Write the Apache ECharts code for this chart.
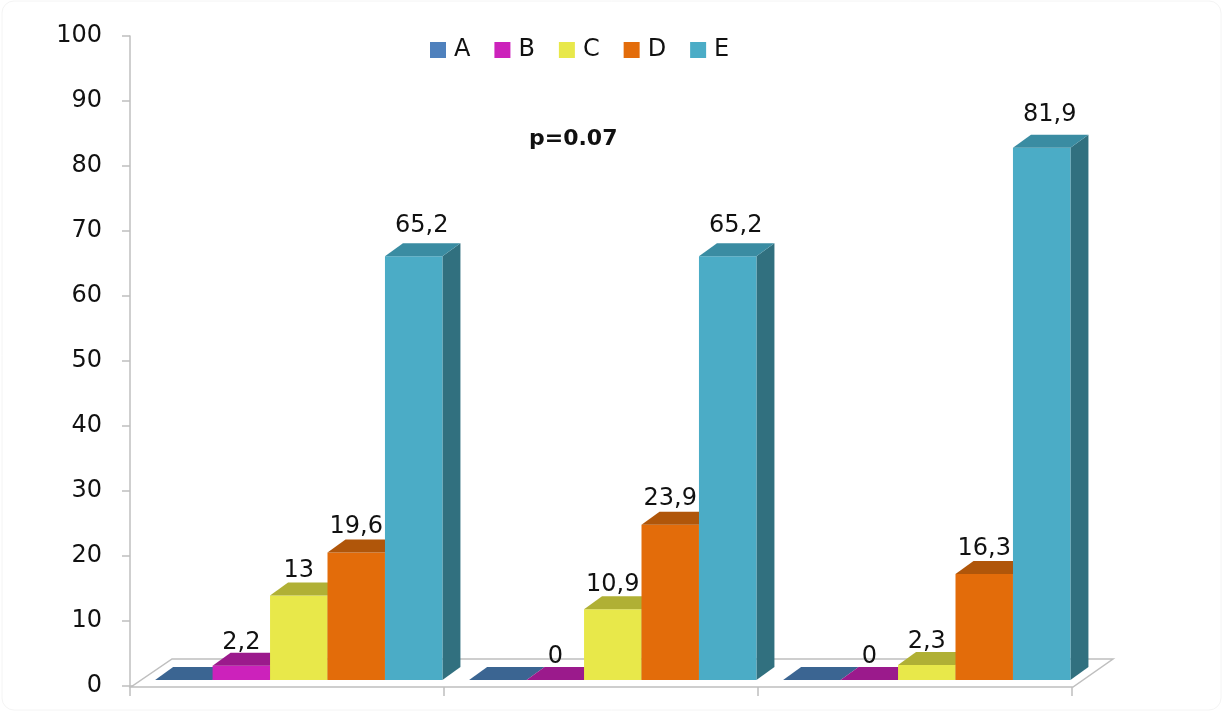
<!DOCTYPE html>
<html>
<head>
<meta charset="utf-8">
<script src="https://cdn.jsdelivr.net/npm/echarts@6/dist/echarts.min.js"></script>
<style>
  html, body { margin: 0; padding: 0; background: #fff; }
  #main { width: 1223px; height: 712px; }
</style>
</head>
<body>
<div id="main"></div>
<script>
var categories = ['1', '2', '3'];
var seriesNames = ['A', 'B', 'C', 'D', 'E'];
var valuesA = [0, 0, 0];
var valuesB = [2.2, 0, 0];
var valuesC = [13, 10.9, 2.3];
var valuesD = [19.6, 23.9, 16.3];
var valuesE = [65.2, 65.2, 81.9];
var yTicks = { min: 0, max: 100, interval: 10 };

// front / top / side colours per series
var frontColors = ['#4F81BD', '#CC22BB', '#E8E84A', '#E36C0A', '#4BACC6'];
var topColors   = ['#3B6592', '#9B1A8C', '#B0B035', '#B0560A', '#3A8CA2'];
var sideColors  = ['#2F5078', '#7E1572', '#8F8F2A', '#8F4608', '#31707F'];
var showLabel   = [false, true, true, true, true];

var DX = 18, DY = -13;   // bar depth
var LIFT = 6;            // front face sits above the axis zero
var FONT = 'DejaVu Sans';

function fmt(v) {
    return String(v).replace('.', ',');
}

function makeBarRender(idx) {
    return function (params, api) {
        var cat = api.value(0), v = api.value(1);
        var band = api.size([1, 0])[0];
        var base = api.coord([cat, 0]);
        var top = api.coord([cat, v]);
        var w = band * 0.183;
        var x0 = base[0] - band * 0.42 + idx * w;
        var x1 = x0 + w;
        var yT = top[1] - LIFT;
        var yB = base[1] - LIFT;
        var children = [
            {
                type: 'polygon',
                shape: { points: [[x1, yT], [x1 + DX, yT + DY], [x1 + DX, yB + DY], [x1, yB]] },
                style: { fill: sideColors[idx] }
            },
            {
                type: 'rect',
                shape: { x: x0, y: yT, width: w, height: yB - yT },
                style: { fill: frontColors[idx] }
            },
            {
                type: 'polygon',
                shape: { points: [[x0, yT], [x1, yT], [x1 + DX, yT + DY], [x0 + DX, yT + DY]] },
                style: { fill: topColors[idx] }
            }
        ];
        if (showLabel[idx]) {
            children.push({
                type: 'text',
                x: (x0 + x1) / 2 + (v > 50 ? 8 : 0),
                y: yT - 23 - v * 0.12,
                style: {
                    text: fmt(v),
                    fill: '#111',
                    fontSize: 24,
                    fontFamily: FONT,
                    align: 'center',
                    verticalAlign: 'middle'
                }
            });
        }
        return { type: 'group', children: children };
    };
}

function renderFloor(params, api) {
    var cs = params.coordSys;
    var yb = cs.y + cs.height + 1;
    var xl = cs.x + 1, xr = cs.x + cs.width + 1;
    return {
        type: 'polygon',
        shape: { points: [[xl, yb], [xr, yb], [xr + 40, yb - 28], [xl + 41, yb - 28]] },
        style: { fill: '#fff', stroke: '#BFBFBF', lineWidth: 1.5 }
    };
}

var allValues = [valuesA, valuesB, valuesC, valuesD, valuesE];

var series = [{
    name: 'floor',
    type: 'custom',
    renderItem: renderFloor,
    data: [[0, 0]],
    silent: true,
    z: 1
}];
for (var i = 0; i < seriesNames.length; i++) {
    var data = [];
    for (var j = 0; j < categories.length; j++) {
        data.push([j, allValues[i][j]]);
    }
    series.push({
        name: seriesNames[i],
        type: 'custom',
        renderItem: makeBarRender(i),
        itemStyle: { color: frontColors[i] },
        encode: { x: 0, y: 1 },
        data: data,
        z: 2 + i
    });
}

var myChart = echarts.init(document.getElementById('main'));
var option = {
    backgroundColor: '#fff',
    animation: false,
    title: {
        text: 'p=0.07',
        left: 524,
        top: 123,
        textStyle: { fontSize: 22, fontWeight: 'bold', fontFamily: FONT, color: '#111' }
    },
    legend: {
        data: seriesNames,
        left: 425,
        top: 33,
        icon: 'rect',
        itemWidth: 16,
        itemHeight: 16,
        itemGap: 24,
        textStyle: { fontSize: 24, fontFamily: FONT, color: '#111', padding: [0, 0, 0, 3] },
    },
    grid: { left: 130, right: 151, top: 36, bottom: 26, containLabel: false },
    xAxis: {
        type: 'category',
        data: categories,
        axisLine: { lineStyle: { color: '#BFBFBF', width: 1.5 } },
        axisTick: { show: true, length: 10, lineStyle: { color: '#BFBFBF', width: 1.5 } },
        axisLabel: { show: false },
        splitLine: { show: false }
    },
    yAxis: {
        type: 'value',
        min: yTicks.min,
        max: yTicks.max,
        interval: yTicks.interval,
        axisLine: { show: true, lineStyle: { color: '#BFBFBF', width: 1.5 } },
        axisTick: { show: true, length: 8, lineStyle: { color: '#BFBFBF', width: 1.5 } },
        axisLabel: { fontSize: 24, fontFamily: FONT, color: '#111', margin: 28 },
        splitLine: { show: false }
    },
    graphic: [{
        type: 'rect',
        shape: { x: 2, y: 1, width: 1219, height: 709, r: 12 },
        style: { fill: 'none', stroke: '#F4F4F4', lineWidth: 1 },
        silent: true
    }],
    series: series
};
myChart.setOption(option);
</script>
</body>
</html>
